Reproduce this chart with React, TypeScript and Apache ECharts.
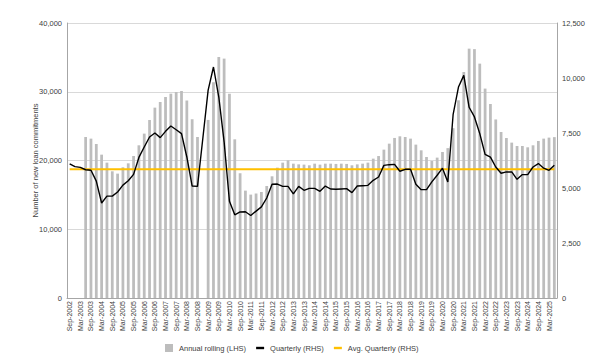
import React, { useEffect, useRef } from "react";
import * as echarts from "echarts";

const quarterMonths = ["Mar", "Jun", "Sep", "Dec"];
const startYear = 2002;
const startQuarterIdx = 2; // Sep
const quarterCount = 92; // Sep-2002 .. Jun-2025

const categories: string[] = [];
for (let k = 0; k < quarterCount; k++) {
  const q = startQuarterIdx + k;
  categories.push(`${quarterMonths[q % 4]}-${startYear + Math.floor(q / 4)}`);
}

// Annual rolling number of new loan commitments (LHS)
const annualRolling: (number | null)[] = [
  null, null, null, 23420, 23180, 22400, 20850, 19690, 18430, 18090,
  19010, 19590, 20650, 22210, 23910, 25890, 27690, 28510, 29240, 29720,
  29960, 30110, 28710, 25990, 23420, null, 25900, 31400, 35050, 34820,
  29720, 23080, 18130, 15620, 15040, 15190, 15420, 16290, 17700, 18960,
  19690, 20030, 19540, 19440, 19400, 19300, 19540, 19400, 19540, 19540,
  19500, 19540, 19500, 19300, 19440, 19540, 19690, 20270, 20650, 21580,
  22450, 23280, 23520, 23420, 23180, 22310, 21480, 20510, 19930, 20420,
  21240, 21800, 24700, 28760, 32870, 36270, 36200, 34090, 30460, 28220,
  25970, 24150, 23270, 22600, 22110, 22110, 21920, 22210, 22840, 23180,
  23330, 23400,
];

// Quarterly number of new loan commitments (RHS)
const quarterly: number[] = [
  6100, 5970, 5940, 5830, 5805, 5310, 4320, 4630, 4630, 4820,
  5130, 5330, 5620, 6390, 6865, 7320, 7500, 7290, 7575, 7820,
  7650, 7470, 6410, 5090, 5075, 7250, 9450, 10500, 9135, 7100,
  4400, 3780, 3910, 3920, 3750, 3950, 4140, 4545, 5170, 5180,
  5075, 5075, 4730, 5075, 4895, 4985, 4985, 4850, 5090, 4955,
  4940, 4955, 4970, 4790, 5090, 5105, 5120, 5350, 5500, 6030,
  6060, 6075, 5760, 5850, 5850, 5170, 4925, 4925, 5280, 5580,
  5900, 5275, 8350, 9590, 10120, 8670, 8230, 7470, 6530, 6400,
  5955, 5670, 5730, 5730, 5395, 5610, 5610, 5955, 6110, 5900,
  5805, 6030,
];

// Average quarterly (RHS)
const avgQuarterlyValue = 5850;
const avgQuarterly: number[] = categories.map(() => avgQuarterlyValue);

const leftTicks = { min: 0, max: 40000, interval: 10000 };
const rightTicks = { min: 0, max: 12500, interval: 2500 };

const FONT = "'Liberation Sans', Arial, sans-serif";
const TEXT = "#404040";
const AXIS = "#a6a6a6";

export default function App() {
  const ref = useRef<HTMLDivElement>(null);

  useEffect(() => {
    if (!ref.current) return;
    const chart = echarts.init(ref.current, undefined, { renderer: "svg" });
    const fmt = (v: number) => v.toLocaleString("en-US");
    chart.setOption({
      animation: false,
      backgroundColor: "#ffffff",
      textStyle: { fontFamily: FONT },
      grid: { left: 67, right: 42, top: 23, bottom: 66 },
      legend: {
        left: 160,
        top: 339,
        itemWidth: 8,
        itemHeight: 8,
        itemGap: 10,
        textStyle: { fontSize: 7.5, color: TEXT, fontFamily: FONT, padding: [0, 0, 0, 1] },
        data: [
          { name: "Annual rolling (LHS)", icon: "rect" },
          { name: "Quarterly (RHS)", icon: "path://M0,0H10V3H0Z" },
          { name: "Avg. Quarterly (RHS)", icon: "path://M0,0H10V3H0Z" },
        ],
      },
      xAxis: {
        type: "category",
        data: categories,
        boundaryGap: true,
        axisLine: { show: true, lineStyle: { color: AXIS, width: 1 } },
        axisTick: { show: false },
        axisLabel: {
          rotate: 90,
          interval: 1,
          fontSize: 7,
          color: TEXT,
          margin: 3,
          fontFamily: FONT,
        },
      },
      yAxis: [
        {
          type: "value",
          ...leftTicks,
          name: "Number of new loan commitments",
          nameLocation: "middle",
          nameGap: 28,
          nameMoveOverlap: false,
          nameTextStyle: { fontSize: 7.5, color: TEXT, fontFamily: FONT },
          axisLine: { show: true, lineStyle: { color: AXIS } },
          axisTick: { show: false },
          splitLine: { show: true, lineStyle: { color: "#d9d9d9", width: 1 } },
          axisLabel: { formatter: fmt, fontSize: 7.5, color: TEXT, margin: 5, fontFamily: FONT },
        },
        {
          type: "value",
          ...rightTicks,
          position: "right",
          axisLine: { show: true, lineStyle: { color: AXIS } },
          axisTick: { show: false },
          splitLine: { show: false },
          axisLabel: { formatter: fmt, fontSize: 7.5, color: TEXT, margin: 5, fontFamily: FONT },
        },
      ],
      series: [
        {
          name: "Annual rolling (LHS)",
          type: "bar",
          yAxisIndex: 0,
          data: annualRolling,
          barCategoryGap: "48%",
          itemStyle: { color: "#bdbdbd" },
        },
        {
          name: "Avg. Quarterly (RHS)",
          type: "line",
          yAxisIndex: 1,
          data: avgQuarterly,
          symbol: "none",
          lineStyle: { color: "#ffc000", width: 2 },
          itemStyle: { color: "#ffc000" },
        },
        {
          name: "Quarterly (RHS)",
          type: "line",
          yAxisIndex: 1,
          data: quarterly,
          symbol: "none",
          lineStyle: { color: "#000000", width: 1.4 },
          itemStyle: { color: "#000000" },
        },
      ],
    });
    return () => chart.dispose();
  }, []);

  return (
    <div
      ref={ref}
      style={{ position: "fixed", left: 0, top: 0, width: 599, height: 364, background: "#fff" }}
    />
  );
}
